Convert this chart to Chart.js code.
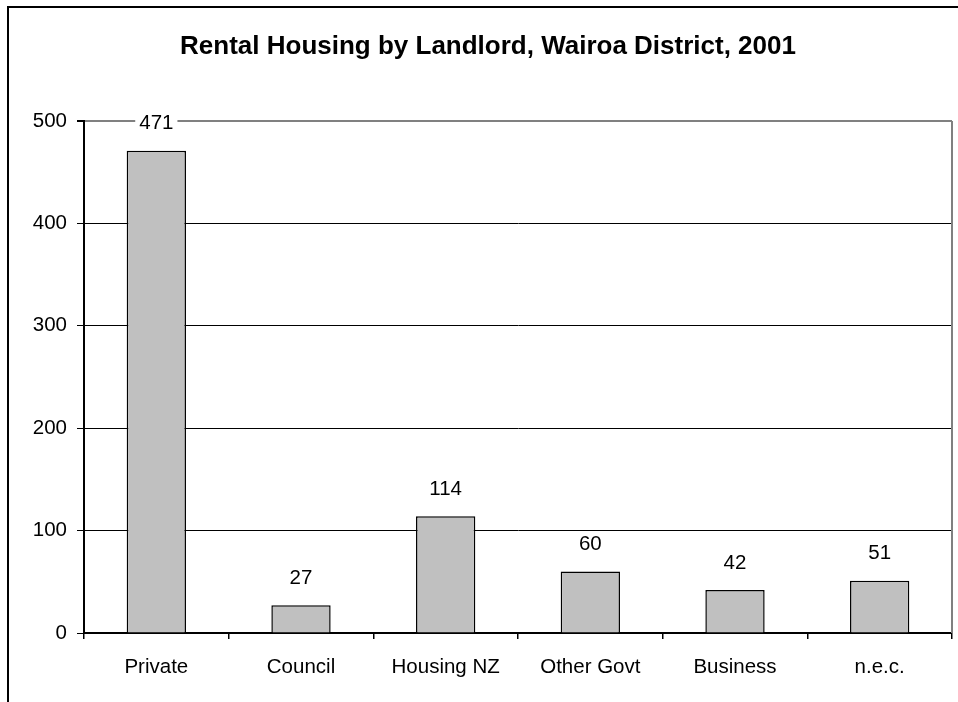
<!DOCTYPE html>
<html>
<head>
<meta charset="utf-8">
<script src="https://cdn.jsdelivr.net/npm/chart.js@4"></script>
<style>
  body { margin: 0; background: #fff; }
  canvas { display: block; }
</style>
</head>
<body>
<canvas id="rentChart" width="958" height="702"></canvas>
<script>
    // Data
    const landlords = ["Private", "Council", "Housing NZ", "Other Govt", "Business", "n.e.c."];
    const dwellings = [471, 27, 114, 60, 42, 51];
    const yTicks = [0, 100, 200, 300, 400, 500];
    const chartTitle = "Rental Housing by Landlord, Wairoa District, 2001";

    const fontFamily = "Arial, 'Liberation Sans', sans-serif";

    // Outer frame, title and grey plot-area border
    const framePlugin = {
      id: "frame",
      beforeDraw(chart) {
        const ctx = chart.ctx;
        ctx.save();
        ctx.strokeStyle = "#000";
        ctx.lineWidth = 2;
        ctx.beginPath();
        ctx.moveTo(8, chart.height);
        ctx.lineTo(8, 7);
        ctx.lineTo(chart.width, 7);
        ctx.stroke();

        // title sits a little right of the canvas centre, as in the original
        ctx.fillStyle = "#000";
        ctx.font = "bold 26px " + fontFamily;
        ctx.textAlign = "center";
        ctx.textBaseline = "alphabetic";
        ctx.fillText(chartTitle, 488, 53.5);
        ctx.restore();
      },
      afterDatasetsDraw(chart) {
        const a = chart.chartArea;
        const ctx = chart.ctx;
        ctx.save();
        ctx.strokeStyle = "#808080";
        ctx.lineWidth = 2;
        ctx.beginPath();
        ctx.moveTo(a.right, a.top);
        ctx.lineTo(a.right, a.bottom);
        ctx.stroke();
        ctx.restore();
      }
    };

    // Value labels above bars, on a white box that hides gridlines
    const valueLabels = {
      id: "valueLabels",
      afterDatasetsDraw(chart) {
        const ctx = chart.ctx;
        const meta = chart.getDatasetMeta(0);
        ctx.save();
        ctx.font = "20.5px " + fontFamily;
        ctx.textAlign = "center";
        ctx.textBaseline = "middle";
        meta.data.forEach((bar, i) => {
          const text = String(dwellings[i]);
          const w = ctx.measureText(text).width + 8;
          const y = bar.y - 27;
          ctx.fillStyle = "#fff";
          ctx.fillRect(bar.x - w / 2, y - 11, w, 22);
          ctx.fillStyle = "#000";
          ctx.fillText(text, bar.x, y);
        });
        ctx.restore();
      }
    };

    new Chart(document.getElementById("rentChart").getContext("2d"), {
      type: "bar",
      data: {
        labels: landlords,
        datasets: [{
          data: dwellings,
          backgroundColor: "#c0c0c0",
          borderColor: "#000",
          borderWidth: 1.5,
          barPercentage: 0.41,
          categoryPercentage: 1.0
        }]
      },
      options: {
        responsive: false,
        animation: false,
        layout: { padding: { top: 121, right: 6 } },
        plugins: {
          legend: { display: false },
          tooltip: { enabled: false },
          title: { display: false }
        },
        scales: {
          x: {
            grid: {
              offset: true,
              drawOnChartArea: false,
              tickLength: 6,
              color: "#000",
              lineWidth: 1.5
            },
            border: { color: "#000", width: 2 },
            ticks: {
              color: "#000",
              padding: 16,
              maxRotation: 0,
              font: { family: fontFamily, size: 20.5 }
            },
            afterFit(scale) { scale.height = 69; }
          },
          y: {
            min: 0,
            max: 500,
            afterBuildTicks(scale) { scale.ticks = yTicks.map(v => ({ value: v })); },
            grid: {
              tickLength: 7,
              color: ctx => ctx.tick && ctx.tick.value === 500 ? "#808080" : "#000",
              lineWidth: ctx => ctx.tick && ctx.tick.value === 500 ? 2 : 1,
              tickColor: "#000"
            },
            border: { color: "#000", width: 2 },
            ticks: {
              color: "#000",
              padding: 10,
              font: { family: fontFamily, size: 20.5 }
            },
            afterFit(scale) { scale.width = 84; }
          }
        }
      },
      plugins: [framePlugin, valueLabels]
    });
</script>
</body>
</html>
